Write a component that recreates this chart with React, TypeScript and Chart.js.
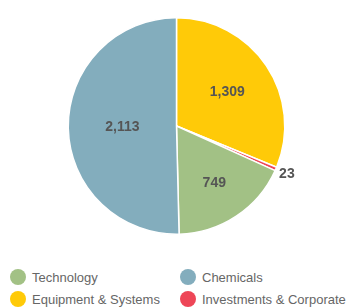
import React, { useEffect, useRef } from "react";
import { Chart, registerables } from "chart.js";

Chart.register(...registerables);

const categories = ["Equipment & Systems", "Investments & Corporate", "Technology", "Chemicals"];
const values = [1309, 23, 749, 2113];
const colors = ["#FFCA08", "#EE4657", "#A2C185", "#83ADBD"];
const legendOrder = ["Technology", "Chemicals", "Equipment & Systems", "Investments & Corporate"];

const labelPlugin = {
  id: "sliceLabels",
  afterDatasetsDraw(chart: any) {
    const ctx = chart.ctx;
    const meta = chart.getDatasetMeta(0);
    const data = chart.data.datasets[0].data as number[];
    const total = data.reduce((a, b) => a + b, 0);
    ctx.save();
    ctx.font = "bold 14px 'Liberation Sans', Arial, sans-serif";
    ctx.fillStyle = "#555555";
    ctx.textAlign = "center";
    ctx.textBaseline = "middle";
    meta.data.forEach((arc: any, i: number) => {
      const { x, y, startAngle, endAngle, outerRadius } = arc.getProps(
        ["x", "y", "startAngle", "endAngle", "outerRadius"],
        true
      );
      const mid = (startAngle + endAngle) / 2;
      const half = (endAngle - startAngle) / 2;
      let dist: number;
      if (data[i] / total < 0.03) {
        dist = outerRadius + 12;
      } else {
        const centroid = (2 * outerRadius * Math.sin(half)) / (3 * half);
        dist = Math.max(0.5 * outerRadius, centroid);
      }
      const tx = x + Math.cos(mid) * dist;
      const ty = y + Math.sin(mid) * dist;
      ctx.fillText(data[i].toLocaleString("en-US"), tx, ty);
    });
    ctx.restore();
  },
};

export default function App() {
  const ref = useRef<HTMLCanvasElement>(null);
  useEffect(() => {
    if (!ref.current) return;
    const chart = new Chart(ref.current, {
      type: "pie",
      data: {
        labels: categories,
        datasets: [
          {
            data: values,
            backgroundColor: colors,
            borderColor: "#ffffff",
            borderWidth: 1.5,
          },
        ],
      },
      options: {
        animation: false,
        responsive: false,
        maintainAspectRatio: false,
        layout: { padding: { top: 17, bottom: 17, left: 2, right: 0 } },
        plugins: {
          legend: { display: false },
          tooltip: { enabled: false },
        },
      },
      plugins: [labelPlugin],
    });
    return () => chart.destroy();
  }, []);

  const colorOf = (name: string) => colors[categories.indexOf(name)];

  return (
    <div
      style={{
        position: "fixed",
        left: 0,
        top: 0,
        width: 351,
        height: 307,
        background: "#ffffff",
        fontFamily: "'Liberation Sans', Arial, sans-serif",
      }}
    >
      <canvas ref={ref} width={351} height={252} style={{ display: "block" }} />
      <div
        style={{
          position: "absolute",
          left: 10,
          top: 269,
          display: "grid",
          gridTemplateColumns: "170px 170px",
          rowGap: 6,
        }}
      >
        {legendOrder.map((name) => (
          <div key={name} style={{ display: "flex", alignItems: "center", height: 16 }}>
            <span
              style={{
                width: 16,
                height: 16,
                borderRadius: "50%",
                background: colorOf(name),
                display: "inline-block",
                flex: "0 0 auto",
              }}
            />
            <span style={{ marginLeft: 6, fontSize: 13, color: "#666666", whiteSpace: "nowrap" }}>{name}</span>
          </div>
        ))}
      </div>
    </div>
  );
}
